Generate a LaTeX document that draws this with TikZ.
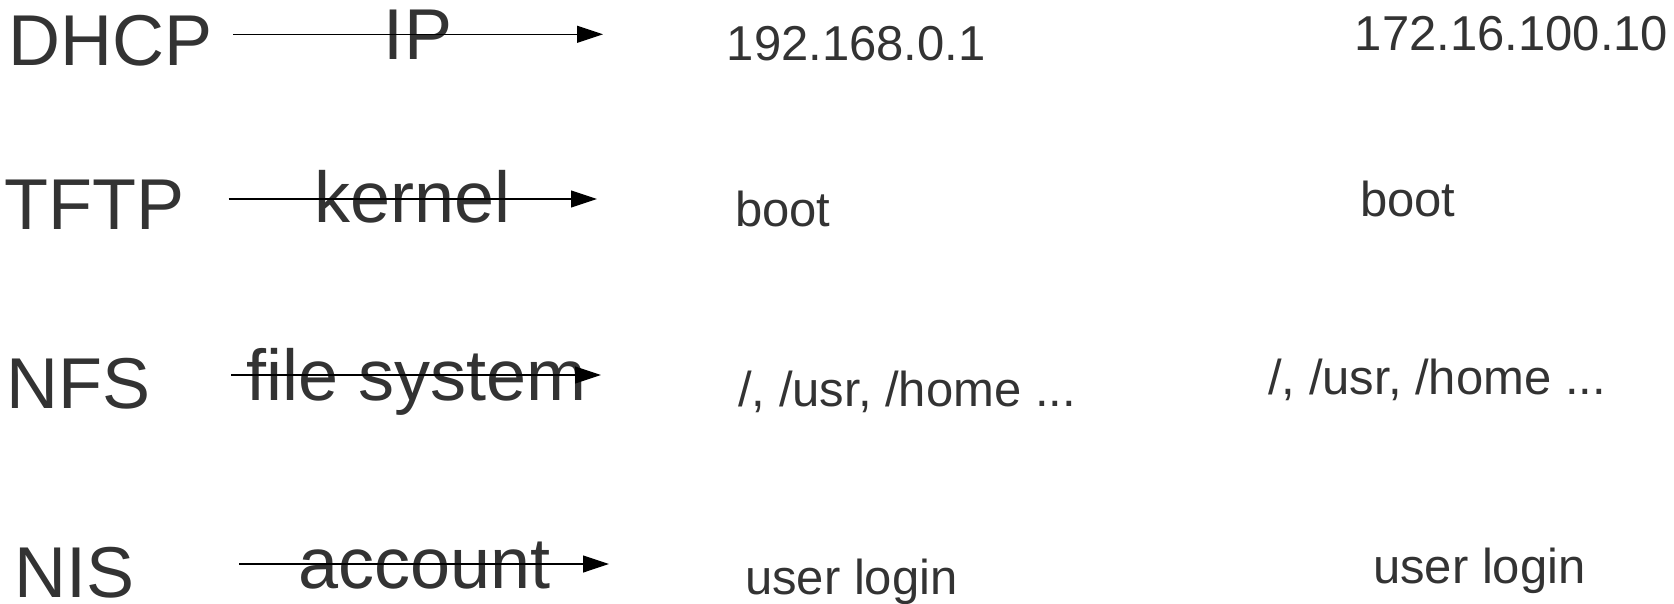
\documentclass[tikz,border=0pt]{standalone}
\usepackage{fontspec}
\setmainfont{Liberation Sans}
\usetikzlibrary{arrows.meta}
\definecolor{txt}{HTML}{333333}
\tikzset{
  big/.style={anchor=base west, inner sep=0pt, text=txt, font=\fontsize{72}{86}\selectfont},
  mid/.style={anchor=base, inner sep=0pt, text=txt, font=\fontsize{72}{86}\selectfont},
  val/.style={anchor=base west, inner sep=0pt, text=txt, font=\fontsize{49}{58}\selectfont},
  conn/.style={draw=black, line width=1.2pt, -{Triangle[length=26pt,width=17pt]}}
}
\begin{document}
\begin{tikzpicture}[x=1pt,y=-1pt]
\useasboundingbox (0,0) rectangle (1674,604);
% protocol names
\node[big] (dhcp) at (8.3,66) {DHCP};
\node[big] (tftp) at (4.4,230) {TFTP};
\node[big] (nfs) at (6.4,408) {NFS};
\node[big] (nis) at (14.3,597) {NIS};
% middle labels
\node[mid] (ip) at (418,60) {IP};
\node[mid] (kernel) at (412.7,223) {kernel};
\node[mid] (fs) at (416.6,400) {file system};
\node[mid] (acc) at (424.4,588) {account};
% values column 1
\node[val] (ipa) at (726.7,61) {192.168.0.1};
\node[val] (boota) at (735,227) {boot};
\node[val] (fsa) at (738,406) {/, /usr, /home ...};
\node[val] (usera) at (745,594) {user login};
% values column 2
\node[val] (ipb) at (1354.7,51) {172.16.100.10};
\node[val] (bootb) at (1360,217) {boot};
\node[val] (fsb) at (1268,394) {/, /usr, /home ...};
\node[val] (userb) at (1373,583) {user login};
% arrow ends
\coordinate (s1) at (233.3,34.3); \coordinate (e1) at (603,34.3);
\coordinate (s2) at (228.5,199);  \coordinate (e2) at (597,199);
\coordinate (s3) at (231.3,375);  \coordinate (e3) at (601,375);
\coordinate (s4) at (239.2,564);  \coordinate (e4) at (609,564);
\draw[conn] (s1) -- (e1);
\draw[conn] (s2) -- (e2);
\draw[conn] (s3) -- (e3);
\draw[conn] (s4) -- (e4);
\end{tikzpicture}
\end{document}
